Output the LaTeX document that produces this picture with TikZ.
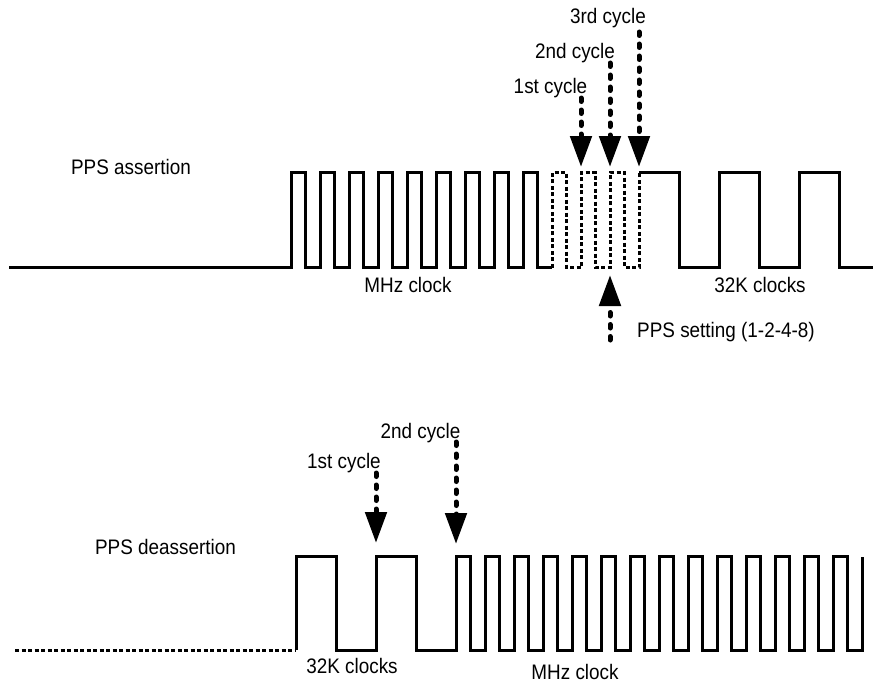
\documentclass[tikz,border=0pt]{standalone}
\usepackage{fontspec}
\setmainfont[FakeStretch=0.9]{Liberation Sans}
\usetikzlibrary{arrows.meta}

\begin{document}
\begin{tikzpicture}[x=1pt, y=-1pt,
    wave/.style={line width=3pt, line join=miter},
    dwave/.style={wave, dash pattern=on 4pt off 2.5pt},
    pointer/.style={line width=5pt, line cap=round, dash pattern=on 3.5pt off 8.5pt,
        -{Triangle[width=21pt, length=31pt]}},
    lbl/.style={font=\fontsize{21pt}{24pt}\selectfont, inner sep=0pt}]
    \useasboundingbox (0,0) rectangle (873,685);
    % PPS assertion
    \node[lbl] (assert) at (131,167) {PPS assertion};
    \draw[wave] (9,267.5) -- (291,267.5)
        foreach \k in {1,...,9} { -- ++(0,-95) -- ++(14.5,0) -- ++(0,95) -- ++(14.5,0) };
    \draw[dwave] (552,267.5)
        foreach \k in {1,2,3} { -- ++(0,-95) -- ++(14.5,0) -- ++(0,95) -- ++(14.5,0) } -- ++(0,-95);
    \draw[wave] (639,172.5)
        foreach \k in {1,2} { -- ++(40,0) -- ++(0,95) -- ++(40,0) -- ++(0,-95) }
        -- ++(40,0) -- ++(0,95) -- (873,267.5);
    \node[lbl] (mhzA) at (408,285) {MHz clock};
    \node[lbl] (khzA) at (760,285) {32K clocks};
    % cycle markers
    \node[lbl] (c1) at (550.5,88) {1st cycle};
    \node[lbl] (c2) at (575,53) {2nd cycle};
    \node[lbl] (c3) at (608,18) {3rd cycle};
    \coordinate (s1) at (581,98);  \coordinate (t1) at (581,167);
    \coordinate (s2) at (610,63);  \coordinate (t2) at (610,167);
    \coordinate (s3) at (639,32);  \coordinate (t3) at (639,167);
    \draw[pointer] (s1) -- (t1);
    \draw[pointer] (s2) -- (t2);
    \draw[pointer] (s3) -- (t3);
    \coordinate (s4) at (610,340); \coordinate (t4) at (610,275);
    \draw[pointer] (s4) -- (t4);
    \node[lbl, anchor=west] (set) at (637,332) {PPS setting (1-2-4-8)};
    % PPS deassertion
    \node[lbl] (deassert) at (165.5,547) {PPS deassertion};
    \draw[dwave] (15,650) -- (296,650);
    \draw[wave] (296,650)
        foreach \k in {1,2} { -- ++(0,-93.5) -- ++(40,0) -- ++(0,93.5) -- ++(40,0) }
        foreach \k in {1,...,14} { -- ++(0,-93.5) -- ++(14.5,0) -- ++(0,93.5) -- ++(14.5,0) }
        -- ++(0,-93.5);
    \node[lbl] (khzB) at (352,666) {32K clocks};
    \node[lbl] (mhzB) at (575,672) {MHz clock};
    \node[lbl] (d1) at (344,463) {1st cycle};
    \node[lbl] (d2) at (420.5,433) {2nd cycle};
    \coordinate (u1) at (376,473); \coordinate (v1) at (376,543);
    \coordinate (u2) at (456,442); \coordinate (v2) at (456,544);
    \draw[pointer] (u1) -- (v1);
    \draw[pointer] (u2) -- (v2);
\end{tikzpicture}
\end{document}
